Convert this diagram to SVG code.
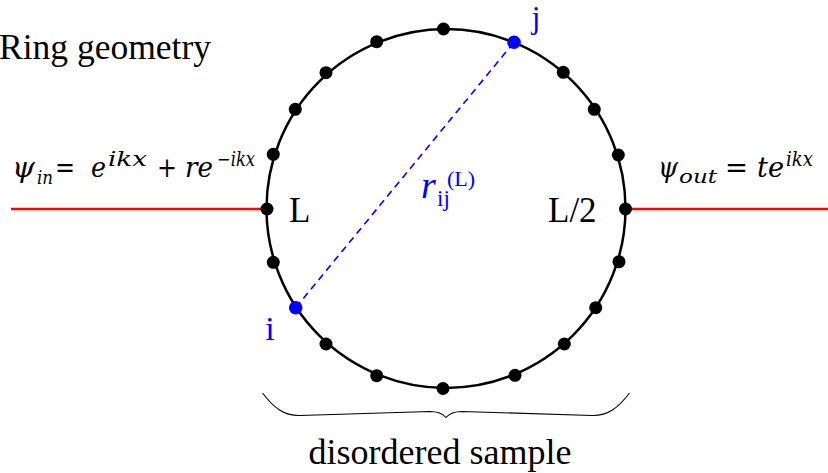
<svg xmlns="http://www.w3.org/2000/svg" width="828" height="473" viewBox="0 0 828 473">
<style>
.txt{font-family:"Liberation Serif","Times New Roman",serif;fill:#000}
.m{font-family:"DejaVu Serif","Liberation Serif",serif;font-style:italic;fill:#000}
.up{font-family:"DejaVu Serif","Liberation Serif",serif;fill:#000}
.rr{font-family:"Liberation Serif","DejaVu Serif",serif;font-style:italic}
.blue{fill:#0000ff}
.dot{fill:#000}
.bdot{fill:#0000ff}
.wire{stroke:#ff0000;stroke-width:2.5;fill:none}
.ring{stroke:#000;stroke-width:2.5;fill:none}
</style>
<rect width="828" height="473" fill="#fff"/>
<text class="txt" x="-1" y="59" font-size="35.5">Ring geometry</text>
<g id="connectors">
<line class="wire" x1="11" y1="209" x2="267" y2="209"/>
<line class="wire" x1="625" y1="209" x2="828" y2="209"/>
<line x1="295.7" y1="307.7" x2="514" y2="42.3" stroke="#0000ff" stroke-width="1.6" stroke-dasharray="7,5"/>
</g>
<g id="ring">
<circle class="ring" cx="446" cy="208.5" r="179.5"/>
<circle class="dot" cx="443.5" cy="29" r="6.5"/>
<circle class="dot" cx="376.7" cy="41.7" r="6.5"/>
<circle class="dot" cx="326" cy="72.7" r="6.5"/>
<circle class="dot" cx="295.3" cy="109.3" r="6.5"/>
<circle class="dot" cx="273.3" cy="154.3" r="6.5"/>
<circle class="dot" cx="267" cy="209" r="6.5"/>
<circle class="dot" cx="563.3" cy="72.3" r="6.5"/>
<circle class="dot" cx="594.3" cy="109.3" r="6.5"/>
<circle class="dot" cx="618.3" cy="155" r="6.5"/>
<circle class="dot" cx="625.5" cy="209" r="6.5"/>
<circle class="dot" cx="273.3" cy="262.3" r="6.5"/>
<circle class="dot" cx="326" cy="344" r="6.5"/>
<circle class="dot" cx="376.7" cy="375.7" r="6.5"/>
<circle class="dot" cx="443" cy="388.5" r="6.5"/>
<circle class="dot" cx="619" cy="261.7" r="6.5"/>
<circle class="dot" cx="595.7" cy="307.7" r="6.5"/>
<circle class="dot" cx="564.3" cy="344" r="6.5"/>
<circle class="dot" cx="515" cy="375.3" r="6.5"/>
</g>
<g id="site-i">
<circle class="bdot" cx="295.7" cy="307.7" r="6.8"/>
<text class="txt blue" x="270" y="340" font-size="34" text-anchor="middle">i</text>
</g>
<g id="site-j">
<circle class="bdot" cx="514" cy="42.3" r="6.8"/>
<text class="txt blue" x="536" y="28" font-size="31" text-anchor="middle">j</text>
</g>
<g id="label-L">
<text class="txt" x="289" y="222" font-size="35">L</text>
</g>
<g id="label-L2">
<text class="txt" x="548" y="222" font-size="35">L/2</text>
</g>
<g id="label-r">
<text class="rr blue" x="421" y="198" font-size="38">r</text>
<text class="txt blue" x="437" y="206" font-size="23">ij</text>
<text class="txt blue" x="447" y="186" font-size="22">(L)</text>
</g>
<g id="psi-in">
<text class="m" x="12" y="177" font-size="28" textLength="23" lengthAdjust="spacingAndGlyphs">ψ</text>
<text class="m" x="37" y="184" font-size="19" textLength="16" lengthAdjust="spacingAndGlyphs">in</text>
<text class="up" x="55" y="177" font-size="28" textLength="20" lengthAdjust="spacingAndGlyphs">=</text>
<text class="m" x="91" y="177" font-size="27" textLength="15" lengthAdjust="spacingAndGlyphs">e</text>
<text class="m" x="108" y="166" font-size="20" textLength="39" lengthAdjust="spacingAndGlyphs">ikx</text>
<text class="up" x="157" y="177" font-size="28" textLength="20" lengthAdjust="spacingAndGlyphs">+</text>
<text class="m" x="185" y="177" font-size="27" textLength="28" lengthAdjust="spacingAndGlyphs">re</text>
<text class="m" x="217" y="166" font-size="20" textLength="38" lengthAdjust="spacingAndGlyphs">−ikx</text>
</g>
<g id="psi-out">
<text class="m" x="658" y="177" font-size="28" textLength="20" lengthAdjust="spacingAndGlyphs">ψ</text>
<text class="m" x="679" y="183" font-size="19" textLength="38" lengthAdjust="spacingAndGlyphs">out</text>
<text class="up" x="725" y="177" font-size="28" textLength="23" lengthAdjust="spacingAndGlyphs">=</text>
<text class="m" x="757" y="177" font-size="27" textLength="27" lengthAdjust="spacingAndGlyphs">te</text>
<text class="m" x="786" y="166" font-size="20" textLength="27" lengthAdjust="spacingAndGlyphs">ikx</text>
</g>
<g id="brace">
<path d="M262.5,393 C274,408 284,416 300,415.5 L430,411.5 C438,411.5 443,414 446,417.5 C449,414 454,411.5 462,411.5 L592,415.5 C608,416 618,408 629.5,393" fill="none" stroke="#000" stroke-width="1.1"/>
<text class="txt" x="440" y="464" font-size="36" text-anchor="middle">disordered sample</text>
</g>
</svg>
